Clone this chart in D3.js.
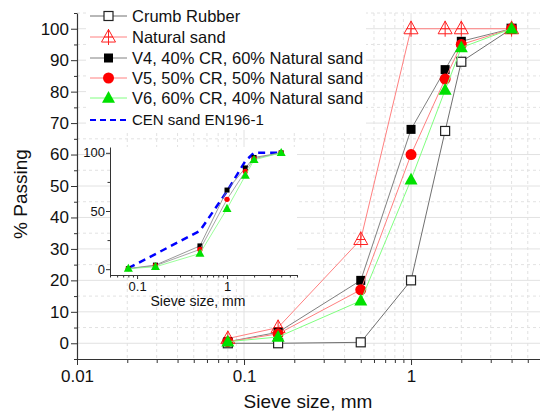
<!DOCTYPE html>
<html>
<head>
<meta charset="utf-8">
<script src="https://cdn.jsdelivr.net/npm/d3@7"></script>
<style>
  body { margin: 0; background: white; }
  text { font-family: "Liberation Sans", Arial, sans-serif; fill: #111; }
</style>
</head>
<body>
<script>
// sieve sizes in mm and % passing for each mix
var sieve = [0.08, 0.16, 0.5, 1, 1.6, 2, 4];
var crumbRubber = [0, 0, 0.3, 20, 67.5, 89.5, 100];
var naturalSand = [1.5, 5, 33, 100, 100, 100, 100];
var v4 = [0.5, 3.5, 20, 68, 87, 96, 100];
var v5 = [0.5, 3, 17, 60, 84, 95, 100];
var v6 = [0.5, 2, 13.5, 52, 80.5, 94, 100];
var cenSand = [1, 13, 33, 67, 93, 100, 100];

var xTickLabels = ["0.01", "0.1", "1"];
var yTickLabels = [0, 10, 20, 30, 40, 50, 60, 70, 80, 90, 100];
var insetXTickLabels = ["0.1", "1"];
var insetYTickLabels = [0, 50, 100];

var legendNames = ["Crumb Rubber", "Natural sand", "V4, 40% CR, 60% Natural sand",
                   "V5, 50% CR, 50% Natural sand", "V6, 60% CR, 40% Natural sand", "CEN sand EN196-1"];

var svg = d3.select("body").append("svg")
    .attr("width", 540)
    .attr("height", 412);

var x = d3.scaleLog().domain([0.01, 6]).range([77, 541]);
var y = d3.scaleLinear().domain([-5, 105]).range([359, 13]);

var gridColor = "#e2e2e2";
var logTicks = x.ticks().filter(function(d){ return d > 0.01 && d <= 6; });
var isMajor = function(d){ return Math.abs(Math.log10(d) - Math.round(Math.log10(d))) < 1e-9; };

// grid
svg.selectAll(".vgrid").data(logTicks).enter().append("line")
    .attr("x1", function(d){ return x(d); })
    .attr("x2", function(d){ return x(d); })
    .attr("y1", y(105)).attr("y2", y(-5))
    .attr("stroke", gridColor)
    .attr("stroke-width", 1)
    .attr("stroke-dasharray", function(d){ return isMajor(d) ? null : "3,3"; });

var yGridVals = d3.range(-5, 106, 5).filter(function(d){ return d > -5; });
svg.selectAll(".hgrid").data(yGridVals).enter().append("line")
    .attr("x1", x(0.01)).attr("x2", 541)
    .attr("y1", function(d){ return y(d); })
    .attr("y2", function(d){ return y(d); })
    .attr("stroke", gridColor)
    .attr("stroke-width", 1)
    .attr("stroke-dasharray", function(d){ return d % 10 === 0 ? null : "3,3"; });

// axes
var xAxis = d3.axisBottom(x)
    .tickValues([0.01].concat(logTicks))
    .tickFormat(function(d){ return isMajor(d) ? xTickLabels[Math.round(Math.log10(d)) + 2] : ""; })
    .tickSizeOuter(0);
var gx = svg.append("g")
    .attr("transform", "translate(0," + y(-5) + ")")
    .call(xAxis);
gx.selectAll(".tick line").attr("y2", function(d){ return isMajor(d) ? 6 : 4; });
gx.selectAll(".tick text").attr("y", 11).style("font-size", "17px");

var yAxis = d3.axisLeft(y)
    .tickValues(d3.range(-5, 106, 5))
    .tickFormat(function(d){ return yTickLabels.indexOf(d) >= 0 ? d : ""; })
    .tickSizeOuter(0);
var gy = svg.append("g")
    .attr("transform", "translate(" + x(0.01) + ",0)")
    .call(yAxis);
gy.selectAll(".tick line").attr("x2", function(d){ return d % 10 === 0 ? -6 : -3; });
gy.selectAll(".tick text").attr("x", -8).style("font-size", "17px");

[gx, gy].forEach(function(g){
  g.select(".domain").attr("stroke", "#333").attr("stroke-width", 1.2);
  g.selectAll(".tick line").attr("stroke", "#333");
  g.selectAll(".tick text").style("font-family", "Liberation Sans, Arial, sans-serif").attr("fill", "#111");
});

svg.append("text")
    .attr("x", 308).attr("y", 408)
    .attr("text-anchor", "middle")
    .style("font-size", "19px")
    .text("Sieve size, mm");

svg.append("text")
    .attr("transform", "translate(27,194) rotate(-90)")
    .attr("text-anchor", "middle")
    .style("font-size", "19px")
    .text("% Passing");

// marker shapes
function triPath(s) {
  var h = s * 0.9;
  return "M0," + (-h * 0.6) + "L" + (s / 2) + "," + (h * 0.4) + "L" + (-s / 2) + "," + (h * 0.4) + "Z";
}
function triCrossPath(s) {
  var h = s * 0.95;
  return triPath(s) + "M0," + (-h * 0.6) + "L0," + (h * 0.6) + "M" + (-s * 0.32) + ",0L" + (s * 0.32) + ",0";
}
function drawMarker(g, type, cx, cy, big) {
  if (type === "openSquare") {
    g.append("rect").attr("x", cx - 4.5).attr("y", cy - 4.5).attr("width", 9).attr("height", 9)
      .attr("fill", "white").attr("stroke", "#222").attr("stroke-width", 1.2);
  } else if (type === "square") {
    var s = big ? 9 : 5;
    g.append("rect").attr("x", cx - s / 2).attr("y", cy - s / 2).attr("width", s).attr("height", s)
      .attr("fill", "#000");
  } else if (type === "circle") {
    g.append("circle").attr("cx", cx).attr("cy", cy).attr("r", big ? 5.5 : 2.7).attr("fill", "#ff0000");
  } else if (type === "triangle") {
    g.append("path").attr("transform", "translate(" + cx + "," + cy + ")")
      .attr("d", triPath(big ? 13 : 9)).attr("fill", "#00e000");
  } else if (type === "triCross") {
    g.append("path").attr("transform", "translate(" + cx + "," + cy + ")")
      .attr("d", triCrossPath(14)).attr("fill", "none").attr("stroke", "#ff2020").attr("stroke-width", 1);
  }
}

var series = [
  {name: legendNames[0], values: crumbRubber, line: "#707070", marker: "openSquare"},
  {name: legendNames[1], values: naturalSand, line: "#ff8080", marker: "triCross"},
  {name: legendNames[2], values: v4, line: "#808080", marker: "square"},
  {name: legendNames[3], values: v5, line: "#ff8080", marker: "circle"},
  {name: legendNames[4], values: v6, line: "#80ff80", marker: "triangle"}
];

var lineGen = d3.line()
    .x(function(d){ return x(d[0]); })
    .y(function(d){ return y(d[1]); });

series.forEach(function(s){
  var pts = sieve.map(function(d, i){ return [d, s.values[i]]; });
  var g = svg.append("g");
  g.append("path").attr("d", lineGen(pts)).attr("fill", "none")
    .attr("stroke", s.line).attr("stroke-width", 1);
  pts.forEach(function(p){ drawMarker(g, s.marker, x(p[0]), y(p[1]), true); });
});

// legend
var legend = svg.append("g");
legend.append("rect").attr("x", 86).attr("y", 3).attr("width", 280).attr("height", 127).attr("fill", "white");
var legendY = [16, 37, 58, 78, 98, 120];
series.forEach(function(s, i){
  var ly = legendY[i];
  legend.append("line").attr("x1", 90).attr("x2", 127).attr("y1", ly).attr("y2", ly)
    .attr("stroke", s.line).attr("stroke-width", 1);
  drawMarker(legend, s.marker, 108.5, ly, true);
  legend.append("text").attr("x", 132).attr("y", ly + 6).style("font-size", "16.5px").text(s.name);
});
legend.append("line").attr("x1", 90).attr("x2", 127).attr("y1", 120).attr("y2", 120)
  .attr("stroke", "#0000ff").attr("stroke-width", 2.2).attr("stroke-dasharray", "6,4");
legend.append("text").attr("x", 132).attr("y", 125).style("font-size", "15px").text(legendNames[5]);

// inset
var xi = d3.scaleLog().domain([0.05, 6]).range([110, 297]);
var yi = d3.scaleLinear().domain([-5, 105]).range([275, 147]);

svg.append("rect").attr("x", 110).attr("y", 147).attr("width", 187).attr("height", 128).attr("fill", "white");

var insetTicks = xi.ticks().filter(function(d){ return d >= 0.05 && d <= 6; });
var gxi = svg.append("g")
    .attr("transform", "translate(0,275)")
    .call(d3.axisBottom(xi).tickValues(insetTicks)
      .tickFormat(function(d){ return isMajor(d) ? insetXTickLabels[Math.round(Math.log10(d)) + 1] : ""; })
      .tickSizeOuter(0));
gxi.selectAll(".tick line").attr("y2", function(d){ return isMajor(d) ? 4 : 2.5; });
gxi.selectAll(".tick text").attr("y", 7).style("font-size", "13px");

var gyi = svg.append("g")
    .attr("transform", "translate(110,0)")
    .call(d3.axisLeft(yi).tickValues([0, 25, 50, 75, 100])
      .tickFormat(function(d){ return insetYTickLabels.indexOf(d) >= 0 ? d : ""; })
      .tickSizeOuter(0));
gyi.selectAll(".tick line").attr("x2", function(d){ return d % 50 === 0 ? -4 : -2.5; });
gyi.selectAll(".tick text").attr("x", -5).style("font-size", "13px");

[gxi, gyi].forEach(function(g){
  g.select(".domain").attr("stroke", "#333").attr("stroke-width", 1);
  g.selectAll(".tick line").attr("stroke", "#333");
  g.selectAll(".tick text").style("font-family", "Liberation Sans, Arial, sans-serif").attr("fill", "#111");
});

svg.append("text")
    .attr("x", 198).attr("y", 306)
    .attr("text-anchor", "middle")
    .style("font-size", "14px")
    .text("Sieve size, mm");

var lineInset = d3.line()
    .x(function(d){ return xi(d[0]); })
    .y(function(d){ return yi(d[1]); });

var cenPts = sieve.map(function(d, i){ return [d, cenSand[i]]; });
svg.append("path").attr("d", lineInset(cenPts)).attr("fill", "none")
  .attr("stroke", "#0000ff").attr("stroke-width", 2.5).attr("stroke-dasharray", "7,5");

var insetSeries = [
  {values: v4, line: "#808080", marker: "square"},
  {values: v5, line: "#909090", marker: "circle"},
  {values: v6, line: "#80ff80", marker: "triangle"}
];
insetSeries.forEach(function(s){
  var pts = sieve.map(function(d, i){ return [d, s.values[i]]; });
  var g = svg.append("g");
  g.append("path").attr("d", lineInset(pts)).attr("fill", "none")
    .attr("stroke", s.line).attr("stroke-width", 0.8);
  pts.forEach(function(p){ drawMarker(g, s.marker, xi(p[0]), yi(p[1]), false); });
});
</script>
</body>
</html>
